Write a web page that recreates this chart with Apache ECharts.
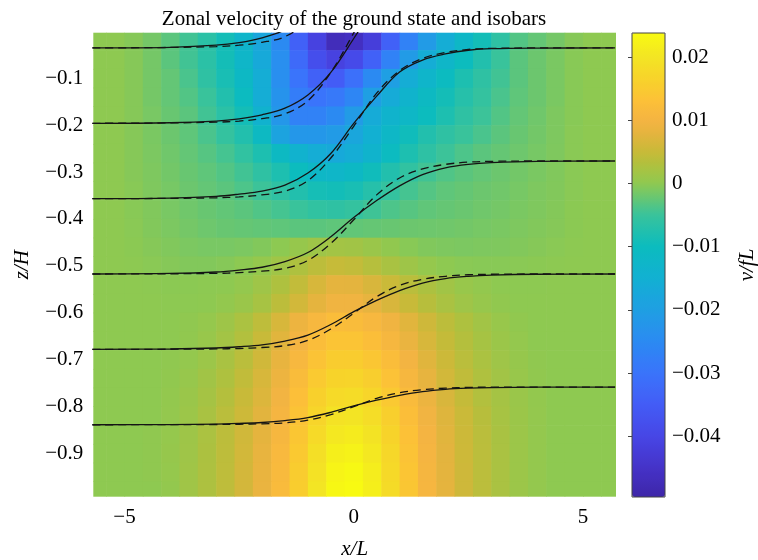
<!DOCTYPE html>
<html><head><meta charset="utf-8">
<script src="https://cdn.jsdelivr.net/npm/echarts@6/dist/echarts.min.js"></script>
<style>html,body{margin:0;padding:0;background:#fff}#c{width:758px;height:560px}</style>
</head><body><div id="c"></div>
<script>
// ---- field grid (cell centres) ----
const fieldX = [-5.6,-5.2,-4.8,-4.4,-4.0,-3.6,-3.2,-2.8,-2.4,-2.0,-1.6,-1.2,-0.8,-0.4,0,0.4,0.8,1.2,1.6,2.0,2.4,2.8,3.2,3.6,4.0,4.4,4.8,5.2,5.6];
const fieldZ = [-0.02,-0.06,-0.10,-0.14,-0.18,-0.22,-0.26,-0.30,-0.34,-0.38,-0.42,-0.46,-0.50,-0.54,-0.58,-0.62,-0.66,-0.70,-0.74,-0.78,-0.82,-0.86,-0.90,-0.94,-0.98];
// v/fL in units of 1e-3, one row per fieldZ, one column per fieldX
const vRows = [
[0,0,-0.5,-1.5,-3,-4.5,-6.5,-9,-13,-18,-25,-34,-41,-47,-46,-42,-34,-27,-21,-16,-12,-9,-6,-3.5,-2.5,-1.5,-0.5,0,0],
[0,0,-0.5,-1.5,-3,-4.5,-6.5,-9,-12.5,-17,-24,-32,-38,-41,-39,-34,-27,-21,-16,-12.5,-10,-7.5,-5,-3,-2,-1.2,-0.4,0,0],
[0,0,-0.5,-1.5,-2.5,-4,-6,-8.5,-11.5,-16,-24,-30,-34,-35,-31,-25,-20,-16,-13,-10.5,-8,-6,-4.5,-3,-2,-1.2,-0.4,0,0],
[0,0,-0.5,-1.5,-2.5,-3.5,-5,-7.5,-10.5,-16,-23,-28,-30,-29,-26,-20,-16.5,-13.5,-11,-9,-7,-5.5,-4,-2.8,-2,-1.2,-0.4,0,0],
[0,0,-0.5,-1.3,-2.2,-3,-4.5,-6.5,-9,-14,-22,-27,-27,-25,-21,-16.5,-13.5,-12,-10,-8,-6,-4.8,-3.5,-2.5,-1.8,-1,-0.4,0,0],
[0,0,-0.5,-1.2,-2,-2.8,-4,-5.5,-7.5,-11,-19,-22,-22,-21,-18,-15,-12,-9.5,-7.5,-6,-5,-4,-3,-2.2,-1.6,-1,-0.3,0,0],
[0,0,-0.5,-1.1,-1.8,-2.5,-3.3,-4.3,-5.8,-8,-11,-14,-16,-17,-16,-13.5,-10.5,-8,-6.2,-4.8,-3.8,-3,-2.4,-1.9,-1.4,-0.9,-0.3,0,0],
[0,0,-0.5,-1,-1.6,-2.2,-2.8,-3.5,-4.5,-6,-8,-10,-12,-12.5,-11.5,-9.5,-7.5,-5.8,-4.5,-3.6,-3,-2.5,-2,-1.6,-1.2,-0.8,-0.3,0,0],
[0,0,-0.4,-0.9,-1.4,-2,-2.5,-3,-3.8,-4.8,-6,-7.5,-8.8,-9.2,-8.5,-7,-5.5,-4.3,-3.4,-2.8,-2.4,-2,-1.7,-1.4,-1,-0.7,-0.3,0,0],
[0,0,-0.4,-0.8,-1.3,-1.8,-2.2,-2.6,-3,-3.6,-4.3,-5,-5.8,-6,-5.5,-4.6,-3.8,-3.2,-2.7,-2.4,-2.1,-1.8,-1.5,-1.2,-0.9,-0.6,-0.2,0,0],
[0,0,-0.3,-0.7,-1.1,-1.5,-1.9,-2.2,-2.4,-2.6,-2.8,-3,-3,-2.8,-2.6,-2.4,-2.2,-2,-1.9,-1.8,-1.6,-1.4,-1.2,-1,-0.7,-0.5,-0.2,0,0],
[0,0,-0.2,-0.5,-0.8,-1.1,-1.3,-1.3,-1.1,-0.7,-0.1,0.6,1.3,1.8,1.6,1,0.2,-0.4,-0.8,-1,-1.1,-1,-0.9,-0.7,-0.5,-0.3,-0.1,0,0],
[0,0,-0.1,-0.3,-0.5,-0.7,-0.7,-0.5,-0.1,0.5,1.5,2.8,4,4.8,4.5,3.5,2.3,1.3,0.5,0,-0.3,-0.4,-0.4,-0.3,-0.2,-0.1,0,0,0],
[0,0,0,-0.1,-0.2,-0.2,-0.1,0,0.4,1.4,2.8,4.5,6.5,8,7.8,6.6,5.2,3.8,2.6,1.6,0.8,0.3,0,-0.1,-0.1,0,0,0,0],
[0,0,0,0,-0.1,-0.1,0,0.3,1,2.2,4,6,8,9.5,9.4,8.2,6.6,5,3.6,2.4,1.4,0.7,0.2,0,0,0,0,0,0],
[0,0,0,0,0,0.1,0.5,1.3,2.5,4.2,6.5,9,11,12.2,12,11,9.5,7.5,5.6,4,2.8,1.7,0.8,0.2,0,0,0,0,0],
[0,0,0,0,0,0.2,0.8,1.8,3.2,5,7.5,10,12.3,13.8,13.8,12.6,10.8,8.6,6.5,4.7,3.3,2.1,1.1,0.4,0,0,0,0,0],
[0,0,0,0,0.1,0.4,1.2,2.3,3.8,5.8,8.3,11,13.6,15.2,15.3,14.2,12.2,9.8,7.4,5.4,3.8,2.5,1.4,0.6,0.1,0,0,0,0],
[0,0,0,0,0.2,0.7,1.6,2.8,4.4,6.5,9,12,14.8,16.6,16.8,15.6,13.4,10.8,8.2,6,4.3,2.9,1.7,0.8,0.2,0,0,0,0],
[0,0,0,0,0.3,1,2,3.3,5,7,9.7,12.8,16,18,18.3,17,14.6,11.7,8.9,6.6,4.7,3.2,2,1,0.3,0,0,0,0],
[0,0,0,0,0.4,1.2,2.3,3.8,5.5,7.6,10.4,13.6,17,19.4,19.8,18.4,15.8,12.6,9.6,7.2,5.2,3.6,2.2,1.1,0.4,0,0,0,0],
[0,0,0,0.1,0.5,1.3,2.5,4,5.8,8,10.8,14.2,18,20.6,21.2,19.6,16.6,13.2,10,7.5,5.4,3.8,2.3,1.2,0.4,0,0,0,0],
[0,0,0,0.1,0.6,1.4,2.6,4.1,6,8.3,11.2,14.7,18.8,21.8,22.4,20.6,17.3,13.6,10.3,7.7,5.5,3.9,2.4,1.2,0.4,0,0,0,0],
[0,0,0,0.1,0.5,1.5,2.7,4.2,6.1,8.5,11.5,15.2,19.5,22.8,23.4,21.4,17.8,14,10.5,7.8,5.6,3.9,2.4,1.2,0.4,0,0,0,0],
[0,0,0,0,0.3,1.5,2.7,4.2,6.1,8.6,11.7,15.5,20,23.3,23.9,21.8,18.1,14.2,10.6,7.9,5.6,3.9,2.4,1.2,0.4,0,0,0,0]
];
// ---- isobars (z/H at isobarX) ----
const isobarX = [-5.7,-4,-3,-2.5,-2,-1.5,-1,-0.5,0,0.5,1,1.5,2,2.5,3,4,5.7];
const solid1 = [-0.0352,-0.0338,-0.0294,-0.0237,-0.0135,0.0034,0.0371,0.0954];
const solid2 = [-0.196,-0.1948,-0.1912,-0.1864,-0.1779,-0.1638,-0.1357,-0.0875,-0.0151,0.0612];
const solid3 = [-0.3568,-0.3555,-0.3519,-0.3471,-0.3407,-0.3278,-0.3021,-0.2603,-0.196,-0.1381,-0.0867,-0.061,-0.0481,-0.0401,-0.0368,-0.0355,-0.0352];
const solid4 = [-0.5175,-0.5163,-0.5132,-0.5091,-0.5031,-0.491,-0.4717,-0.438,-0.397,-0.3608,-0.3294,-0.3053,-0.2909,-0.2836,-0.28,-0.2771,-0.2764];
const solid5 = [-0.6783,-0.6775,-0.6754,-0.6727,-0.6687,-0.6606,-0.6478,-0.6253,-0.5979,-0.5738,-0.5529,-0.5368,-0.5272,-0.5224,-0.5199,-0.518,-0.5175];
const solid6 = [-0.8391,-0.8387,-0.8377,-0.8363,-0.8343,-0.8302,-0.8238,-0.8126,-0.7989,-0.7868,-0.7764,-0.7683,-0.7635,-0.7611,-0.7599,-0.7589,-0.7587];
const dashed1 = [-0.0352,-0.0342,-0.0323,-0.0294,-0.0232,-0.0111,0.0226,0.095];
const dashed2 = [-0.196,-0.1952,-0.1936,-0.1912,-0.186,-0.1759,-0.1478,-0.0875,-0.0031,0.0853];
const dashed3 = [-0.3568,-0.3562,-0.3549,-0.353,-0.3487,-0.3407,-0.3182,-0.27,-0.2024,-0.1317,-0.0835,-0.0577,-0.0449,-0.0384,-0.0362,-0.0352,-0.0352];
const dashed4 = [-0.5175,-0.517,-0.5161,-0.5146,-0.5115,-0.5055,-0.4886,-0.4524,-0.4018,-0.3487,-0.3126,-0.2933,-0.2836,-0.2788,-0.2771,-0.2764,-0.2764];
const dashed5 = [-0.6783,-0.678,-0.6773,-0.6764,-0.6743,-0.6703,-0.659,-0.6349,-0.6011,-0.5658,-0.5417,-0.5288,-0.5224,-0.5191,-0.518,-0.5175,-0.5175];
const dashed6 = [-0.8391,-0.8389,-0.8386,-0.8381,-0.8371,-0.8351,-0.8294,-0.8174,-0.8005,-0.7828,-0.7708,-0.7643,-0.7611,-0.7595,-0.7589,-0.7587,-0.7587];

// ---- ticks / labels ----
const xTicks = [-5, 0, 5];
const zTicks = [-0.9,-0.8,-0.7,-0.6,-0.5,-0.4,-0.3,-0.2,-0.1];
const cbTicks = [-40,-30,-20,-10,0,10,20]; // 1e-3 units
const titleText = 'Zonal velocity of the ground state and isobars';
const vMin = -49.6, vMax = 23.8; // colour range, 1e-3 units

// ---- colormap (parula-like) ----
const cmapStops = [
 [-49.6,'#3e26a8'],[-45,'#4532c8'],[-40,'#4746e6'],[-35,'#435cf6'],[-30,'#3a74fb'],
 [-25,'#2b8af2'],[-20,'#1f9fe3'],[-15,'#12b0d2'],[-10,'#0bbcbe'],[-5,'#38c39c'],
 [0,'#8fc950'],[3,'#b0c03e'],[5,'#c8ba38'],[8,'#e6b43e'],[10,'#f4b442'],
 [13,'#fcc038'],[16,'#f8d02c'],[20,'#f3e524'],[23.8,'#f8fa12']
];
function hexRgb(h){return [1,3,5].map(i=>parseInt(h.slice(i,i+2),16));}
function buildCmap(stops,n){
  const lo=stops[0][0], hi=stops[stops.length-1][0], out=[];
  for(let k=0;k<n;k++){
    const v=lo+(hi-lo)*k/(n-1); let s=0;
    while(s<stops.length-2 && v>stops[s+1][0]) s++;
    const a=stops[s], b=stops[s+1];
    const t=Math.min(1,Math.max(0,(v-a[0])/(b[0]-a[0])));
    const ca=hexRgb(a[1]), cb=hexRgb(b[1]);
    out.push('rgb('+ca.map((c,i)=>Math.round(c+(cb[i]-c)*t)).join(',')+')');
  }
  return out;
}
const cmap = buildCmap(cmapStops, 148);

const cells = [];
fieldZ.forEach((z,j)=>fieldX.forEach((x,i)=>cells.push([x,z,vRows[j][i]])));
const cellW = fieldX[1]-fieldX[0], cellH = fieldZ[0]-fieldZ[1];

function renderCell(params, api){
  const x=api.value(0), z=api.value(1);
  const a=api.coord([x-cellW/2, z+cellH/2]);
  const b=api.coord([x+cellW/2, z-cellH/2]);
  const r=echarts.graphic.clipRectByRect({x:a[0],y:a[1],width:b[0]-a[0]+0.6,height:b[1]-a[1]+0.6}, params.coordSys);
  if(!r) return;
  return {type:'rect', shape:r, style:{fill:api.visual('color')}};
}
const serif = 'Liberation Serif';
const minus = s => String(s).replace('-', '\u2212');

function isoSeries(zs, dashed){
  return {type:'line', xAxisIndex:0, yAxisIndex:0, data:zs.map((z,i)=>[isobarX[i], z]),
    symbol:'none', smooth:0.35, clip:true, silent:true, z:5,
    lineStyle:{color:'#141414', width:1.3, type: dashed ? [8,5] : 'solid'}};
}

const chart = echarts.init(document.getElementById('c'), null, {renderer:'canvas'});
chart.setOption({
  animation:false,
  textStyle:{fontFamily:serif},
  graphic:[{type:'text', x:354, y:19, style:{text:titleText, font:'21px "Liberation Serif"', fill:'#000', textAlign:'center', textVerticalAlign:'middle'}}],
  grid:[
    {left:93.3, top:32.7, width:522.7, height:464, outerBoundsMode:'none', containLabel:false},
    {left:632, top:33, width:33, height:464, show:true, borderColor:'#444', borderWidth:1, backgroundColor:'transparent', z:6, outerBoundsMode:'none', containLabel:false}
  ],
  xAxis:[
    {type:'value', min:-5.68, max:5.72,
     axisLine:{show:false}, axisTick:{show:false}, splitLine:{show:false},
     axisLabel:{customValues:xTicks, fontSize:21, color:'#000', fontFamily:serif, margin:10, formatter:v=>minus(v)},
     name:'x/L', nameLocation:'middle', nameGap:42,
     nameTextStyle:{fontSize:21, fontStyle:'italic', color:'#000', fontFamily:serif}},
    {type:'value', gridIndex:1, min:0, max:1, show:false}
  ],
  yAxis:[
    {type:'value', min:-0.9926, max:-0.0027,
     axisLine:{show:false}, axisTick:{show:false}, splitLine:{show:false},
     axisLabel:{customValues:zTicks, fontSize:21, color:'#000', fontFamily:serif, margin:10, formatter:v=>minus(v.toFixed(1))},
     name:'z/H', nameLocation:'middle', nameGap:60, nameRotate:90,
     nameTextStyle:{fontSize:21, fontStyle:'italic', color:'#000', fontFamily:serif}},
    {type:'value', gridIndex:1, position:'right', min:vMin, max:vMax, z:10,
     axisLine:{show:false}, splitLine:{show:false},
     axisTick:{show:true, customValues:cbTicks, inside:true, length:4, lineStyle:{color:'#444'}},
     axisLabel:{customValues:cbTicks, fontSize:21, color:'#000', fontFamily:serif, margin:7, formatter:v=>(v===0?'0':minus((v/1000).toFixed(2)))},
     name:'v/fL', nameLocation:'middle', nameGap:72, nameRotate:90,
     nameTextStyle:{fontSize:21, fontStyle:'italic', color:'#000', fontFamily:serif}}
  ],
  visualMap:{type:'continuous', min:vMin, max:vMax, dimension:2, seriesIndex:0,
    inRange:{color:cmap}, itemWidth:33, itemHeight:464, left:627, top:28, padding:5,
    calculable:false, hoverLink:false, text:null, showLabel:false, z:4},
  series:[
    {type:'custom', xAxisIndex:0, yAxisIndex:0, data:cells, renderItem:renderCell, encode:{x:0,y:1}, silent:true, z:1},
    isoSeries(solid1,false), isoSeries(solid2,false), isoSeries(solid3,false),
    isoSeries(solid4,false), isoSeries(solid5,false), isoSeries(solid6,false),
    isoSeries(dashed1,true), isoSeries(dashed2,true), isoSeries(dashed3,true),
    isoSeries(dashed4,true), isoSeries(dashed5,true), isoSeries(dashed6,true)
  ]
});
</script></body></html>
